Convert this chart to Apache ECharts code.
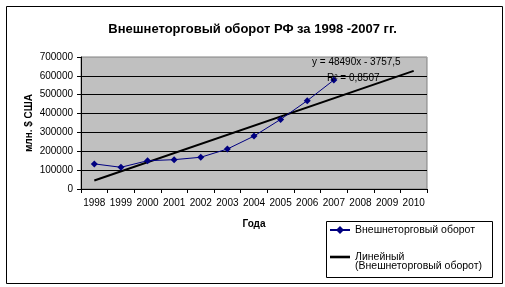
<!DOCTYPE html>
<html>
<head>
<meta charset="utf-8">
<script src="https://cdn.jsdelivr.net/npm/echarts@6/dist/echarts.min.js"></script>
<style>html,body{margin:0;padding:0;background:#fff}#c{width:505px;height:287px}</style>
</head>
<body>
<div id="c"></div>
<script>
var years = ['1998','1999','2000','2001','2002','2003','2004','2005','2006','2007','2008','2009','2010'];
var turnover = [133200, 115100, 149900, 155600, 168300, 212000, 280600, 369200, 468400, 577900, null, null, null];
var trendPoints = [['1998', 44733], ['2010', 626613]];
var yTicks = [0, 100000, 200000, 300000, 400000, 500000, 600000, 700000];
var seriesName = 'Внешнеторговый оборот';
var trendName = 'Линейный\n(Внешнеторговый оборот)';
var trendLines = trendName.split('\n');
var equationText = 'y = 48490x - 3757,5';
var r2Text = 'R² = 0,8507';

var FONT = 'Liberation Sans, Arial, sans-serif';
var chart = echarts.init(document.getElementById('c'), null, {renderer: 'canvas'});
chart.setOption({
  animation: false,
  backgroundColor: '#fff',
  textStyle: {fontFamily: FONT},
  title: {
    text: 'Внешнеторговый оборот РФ за 1998 -2007 гг.',
    left: 'center', top: 18,
    textStyle: {fontSize: 13, fontWeight: 'bold', color: '#000', fontFamily: FONT}
  },
  grid: {
    left: 81, top: 57, right: 78, bottom: 98,
    show: true, backgroundColor: '#c0c0c0', borderColor: '#808080', borderWidth: 1
  },
  xAxis: {
    type: 'category', data: years, boundaryGap: true,
    name: 'Года', nameLocation: 'middle', nameGap: 30,
    nameTextStyle: {fontSize: 10, fontWeight: 'bold', color: '#000', fontFamily: FONT},
    axisLine: {lineStyle: {color: '#000', width: 1}},
    axisTick: {show: true, length: 4, lineStyle: {color: '#000'}},
    axisLabel: {fontSize: 10, color: '#000', margin: 9, interval: 0, fontFamily: FONT},
    splitLine: {show: false}
  },
  yAxis: {
    type: 'value', min: yTicks[0], max: yTicks[yTicks.length - 1], interval: yTicks[1] - yTicks[0],
    name: 'млн. $ США', nameLocation: 'middle', nameGap: 47, nameRotate: 90, nameMoveOverlap: false,
    nameTextStyle: {fontSize: 10, fontWeight: 'bold', color: '#000', fontFamily: FONT},
    axisLine: {show: true, lineStyle: {color: '#000', width: 1}},
    axisTick: {show: true, length: 4, lineStyle: {color: '#000'}},
    axisLabel: {fontSize: 10, color: '#000', margin: 8, fontFamily: FONT,
      formatter: function (v) { return String(v); }},
    splitLine: {show: true, lineStyle: {color: ['#000','#000','#000','#000','#000','#000','#000','#a0a0a0'], width: 1}}
  },
  legend: {
    left: 329, top: 224, orient: 'vertical', itemGap: 15, padding: 0,
    itemWidth: 20, itemHeight: 10,
    textStyle: {fontSize: 10.5, lineHeight: 12, color: '#000', fontFamily: FONT},
    formatter: function (n) { return n === trendName ? trendLines[0] : n; },
    data: [
      {name: seriesName},
      {name: trendName, icon: 'path://M0,0L100,0L100,13L0,13Z'}
    ]
  },
  graphic: [
    {type: 'rect', left: 4, top: 4, shape: {width: 496, height: 277}, style: {fill: 'none', stroke: '#000', lineWidth: 1}, z: 100},
    {type: 'rect', left: 324, top: 219, shape: {width: 166, height: 56}, style: {fill: 'none', stroke: '#000', lineWidth: 1}, z: 100},
    {type: 'text', left: 355, top: 261, style: {text: trendLines[1], fill: '#000', font: '10.5px ' + FONT}, z: 100},
    {type: 'text', left: 312, top: 57, style: {text: equationText, fill: '#000', font: '10px ' + FONT}, z: 100},
    {type: 'text', left: 327, top: 73, style: {text: r2Text, fill: '#000', font: '10px ' + FONT}, z: 100}
  ],
  series: [
    {
      name: seriesName, type: 'line', data: turnover,
      symbol: 'diamond', symbolSize: 7,
      lineStyle: {color: '#000080', width: 1},
      itemStyle: {color: '#000080'},
      z: 3
    },
    {
      name: trendName, type: 'line', data: trendPoints,
      symbol: 'none', silent: true,
      lineStyle: {color: '#000', width: 2},
      itemStyle: {color: '#000'},
      z: 2
    }
  ]
});
</script>
</body>
</html>
